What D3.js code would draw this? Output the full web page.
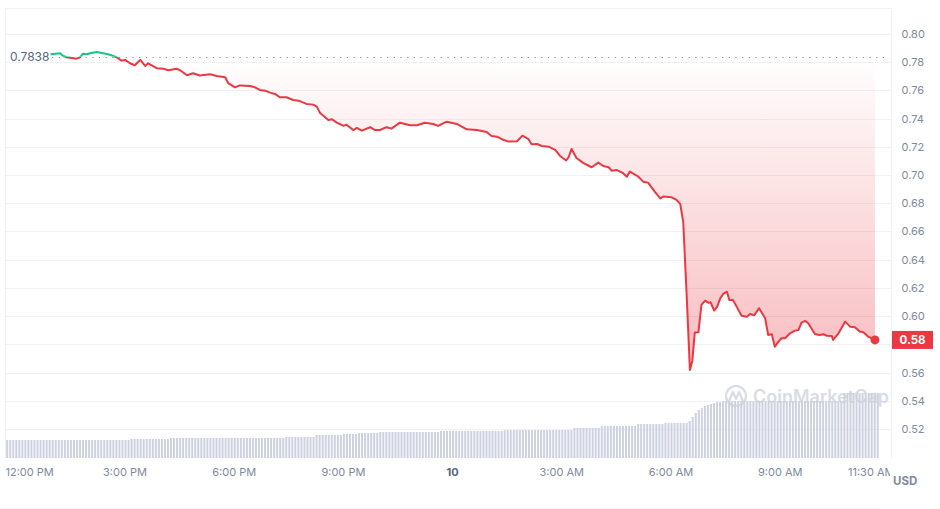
<!DOCTYPE html>
<html>
<head>
<meta charset="utf-8">
<script src="https://cdn.jsdelivr.net/npm/d3@7"></script>
<style>
  body { margin: 0; background: #fff; }
  svg { display: block; font-family: Inter, "Noto Sans", sans-serif; }
</style>
</head>
<body>
<div id="chart"></div>
<script>
var width = 940;
var height = 509;

// reference (open) price and last price
var openPrice = 0.7838;
var lastPrice = 0.5831;

// price points: minutes after 12:00 PM on the 9th, and price in USD
var priceMinutes = [
  58, 74, 79, 85, 101, 107, 111, 118, 123, 134,
  145, 156, 167, 175, 181, 189, 197, 206, 214, 219,
  233, 244, 252, 266, 274, 283, 293, 304, 321, 332,
  346, 351, 362, 370, 387, 395, 403, 412, 420, 428,
  436, 447, 458, 467, 475, 480, 491, 497, 502, 516,
  522, 530, 541, 546, 557, 563, 571, 585, 593, 601,
  612, 620, 634, 651, 662, 675, 689, 697, 711, 728,
  744, 761, 777, 785, 794, 802, 813, 827, 836, 846,
  851, 860, 868, 879, 890, 898, 908, 912, 917, 925,
  936, 950, 961, 969, 978, 983, 991, 1002, 1008, 1013,
  1027, 1035, 1043, 1054, 1063, 1068, 1082, 1090, 1096, 1101,
  1107, 1112, 1116, 1120, 1126, 1131, 1137, 1142, 1146, 1152,
  1157, 1162, 1167, 1173, 1177, 1183, 1189, 1197, 1206, 1211,
  1218, 1226, 1236, 1241, 1247, 1252, 1258, 1263, 1269, 1277,
  1285, 1291, 1296, 1302, 1307, 1318, 1326, 1332, 1338, 1346,
  1348, 1357, 1368, 1376, 1384, 1392, 1398, 1406, 1417
];
var priceValues = [
  0.7856, 0.7863, 0.7844, 0.7835, 0.7825, 0.7835, 0.7860, 0.7856, 0.7863, 0.7872,
  0.7863, 0.7853, 0.7835, 0.7811, 0.7816, 0.7792, 0.7778, 0.7816, 0.7773, 0.7792,
  0.7757, 0.7754, 0.7743, 0.7754, 0.7736, 0.7707, 0.7721, 0.7706, 0.7714, 0.7702,
  0.7693, 0.7651, 0.7621, 0.7635, 0.7631, 0.7622, 0.7603, 0.7598, 0.7584, 0.7575,
  0.7551, 0.7551, 0.7532, 0.7527, 0.7513, 0.7504, 0.7499, 0.7485, 0.7442, 0.7390,
  0.7395, 0.7371, 0.7348, 0.7357, 0.7319, 0.7334, 0.7315, 0.7339, 0.7319, 0.7319,
  0.7339, 0.7329, 0.7371, 0.7353, 0.7353, 0.7371, 0.7362, 0.7348, 0.7378, 0.7362,
  0.7324, 0.7319, 0.7305, 0.7277, 0.7272, 0.7254, 0.7237, 0.7239, 0.7279, 0.7254,
  0.7218, 0.7220, 0.7206, 0.7201, 0.7178, 0.7135, 0.7103, 0.7126, 0.7185, 0.7121,
  0.7086, 0.7055, 0.7088, 0.7064, 0.7055, 0.7031, 0.7036, 0.7013, 0.6988, 0.7024,
  0.6988, 0.6953, 0.6946, 0.6882, 0.6834, 0.6847, 0.6842, 0.6823, 0.6795, 0.6667,
  0.6114, 0.5618, 0.5682, 0.5884, 0.5885, 0.6079, 0.6109, 0.6095, 0.6098, 0.6039,
  0.6067, 0.6126, 0.6157, 0.6173, 0.6114, 0.6114, 0.6067, 0.6003, 0.5996, 0.6015,
  0.6006, 0.6056, 0.5985, 0.5866, 0.5871, 0.5783, 0.5819, 0.5843, 0.5843, 0.5878,
  0.5897, 0.5902, 0.5954, 0.5966, 0.5949, 0.5873, 0.5866, 0.5871, 0.5861, 0.5859,
  0.5831, 0.5878, 0.5961, 0.5925, 0.5921, 0.5890, 0.5885, 0.5854, 0.5831
];

// volume bars, one every 5 minutes starting 11:45 AM on the 9th (arbitrary units)
var volumeValues = [
  18,18,18,18,18,18,18,18,18,18,18,18,18,18,18,18,18,18,18,18,18,18,18,18,
  18,18,18,18,18,18,18,18,18,18,18,18,18,18,18,18,18,19,19,19,19,19,19,19,
  19,19,19,19,19,19,20,20,20,20,20,20,20,20,20,20,20,20,20,20,20,20,20,20,
  20,20,20,20,20,20,20,20,20,20,20,20,20,20,20,20,20,20,20,20,21,21,21,21,
  21,21,21,21,21,21,23,23,23,23,23,23,23,23,23,24,24,24,24,24,25,25,25,25,
  25,25,25,26,26,26,26,26,26,26,26,26,26,26,26,26,26,26,26,26,26,26,26,27,
  27,27,27,27,27,27,27,27,27,27,27,27,27,27,27,27,27,27,27,27,28,28,28,28,
  28,28,28,28,28,28,28,28,28,28,28,28,28,28,28,28,28,28,28,30,30,30,30,30,
  30,30,30,30,32,32,32,32,32,32,32,32,32,32,32,32,34,34,34,34,34,34,34,34,
  34,35,35,35,35,35,35,35,35,37,41,45,48,50,52,53,54,55,56,56,57,57,57,57,
  57,57,57,57,57,57,57,57,57,57,57,57,57,57,57,57,57,57,57,57,57,57,57,57,
  57,57,57,57,57,57,57,57,57,57,57,57,65,65,65,65,65,65,65,65,65,65,65,65
];

var yTicks = [0.52, 0.54, 0.56, 0.58, 0.60, 0.62, 0.64, 0.66, 0.68, 0.70, 0.72, 0.74, 0.76, 0.78, 0.80];
var xTickTimes = [
  new Date(2024, 8, 9, 12, 0), new Date(2024, 8, 9, 15, 0), new Date(2024, 8, 9, 18, 0),
  new Date(2024, 8, 9, 21, 0), new Date(2024, 8, 10, 0, 0), new Date(2024, 8, 10, 3, 0),
  new Date(2024, 8, 10, 6, 0), new Date(2024, 8, 10, 9, 0), new Date(2024, 8, 10, 11, 30)
];
var xTickLabels = ["12:00 PM", "3:00 PM", "6:00 PM", "9:00 PM", "10", "3:00 AM", "6:00 AM", "9:00 AM", "11:30 AM"];

var startTime = new Date(2024, 8, 9, 12, 0);
var volumeStart = new Date(2024, 8, 9, 11, 45);

var priceData = priceMinutes.map(function (m, i) {
  return { date: new Date(startTime.getTime() + m * 60000), price: priceValues[i] };
});
var volumeData = volumeValues.map(function (v, i) {
  return { date: new Date(volumeStart.getTime() + i * 5 * 60000), vol: v };
});

// plot frame
var plotLeft = 5.5, plotRight = 891.5, plotTop = 8, plotBottom = 458;
var green = '#16c784', red = '#ea3943';

var svg = d3.select('#chart').append('svg')
  .attr('width', width)
  .attr('height', height);

var xScale = d3.scaleTime()
  .domain([new Date(2024, 8, 9, 12, 0), new Date(2024, 8, 10, 12, 0)])
  .range([15.3, 888.9]);

var yScale = d3.scaleLinear()
  .domain([0.4994, 0.8184])
  .range([plotBottom, plotTop]);

var volScale = d3.scaleLinear()
  .domain([0, 100])
  .range([plotBottom, plotBottom - 100]);

var defs = svg.append('defs');
var baseY = yScale(openPrice);

var redGrad = defs.append('linearGradient')
  .attr('id', 'redGrad').attr('gradientUnits', 'userSpaceOnUse')
  .attr('x1', 0).attr('x2', 0).attr('y1', baseY).attr('y2', yScale(0.5618));
redGrad.append('stop').attr('offset', '0%').attr('stop-color', red).attr('stop-opacity', 0);
redGrad.append('stop').attr('offset', '100%').attr('stop-color', red).attr('stop-opacity', 0.34);

var greenGrad = defs.append('linearGradient')
  .attr('id', 'greenGrad').attr('gradientUnits', 'userSpaceOnUse')
  .attr('x1', 0).attr('x2', 0).attr('y1', baseY).attr('y2', plotTop);
greenGrad.append('stop').attr('offset', '0%').attr('stop-color', green).attr('stop-opacity', 0);
greenGrad.append('stop').attr('offset', '100%').attr('stop-color', green).attr('stop-opacity', 0.3);

defs.append('clipPath').attr('id', 'clipAbove')
  .append('rect').attr('x', 0).attr('y', 0).attr('width', width).attr('height', baseY);
defs.append('clipPath').attr('id', 'clipBelow')
  .append('rect').attr('x', 0).attr('y', baseY).attr('width', width).attr('height', height - baseY);
defs.append('clipPath').attr('id', 'clipAxisLocal')
  .append('rect').attr('x', 0).attr('y', 0).attr('width', 890).attr('height', 40);

// grid lines
svg.append('g').selectAll('line')
  .data(yTicks)
  .enter().append('line')
  .attr('x1', plotLeft).attr('x2', plotRight)
  .attr('y1', d => Math.round(yScale(d)) + 0.5)
  .attr('y2', d => Math.round(yScale(d)) + 0.5)
  .attr('stroke', '#f0f1f4');

// frame
svg.append('path')
  .attr('d', 'M' + plotLeft + ',' + plotBottom + 'V' + (plotTop + 0.5) + 'H' + plotRight + 'V' + plotBottom)
  .attr('fill', 'none')
  .attr('stroke', '#eff1f4');
svg.append('line')
  .attr('x1', 0).attr('x2', 880).attr('y1', 508.5).attr('y2', 508.5)
  .attr('stroke', '#eff1f4');

// volume bars
svg.append('g').selectAll('rect')
  .data(volumeData)
  .enter().append('rect')
  .attr('x', d => xScale(d.date))
  .attr('y', d => volScale(d.vol))
  .attr('width', 2)
  .attr('height', d => plotBottom - volScale(d.vol))
  .attr('fill', '#ccd2df');

// watermark
var wm = svg.append('g').attr('opacity', 0.75);
wm.append('circle').attr('cx', 736).attr('cy', 396).attr('r', 10)
  .attr('fill', 'none').attr('stroke', '#cdd1d9').attr('stroke-width', 2.2);
wm.append('path')
  .attr('d', 'M729,401 L733,392 L736,399 L739,392 L743,401')
  .attr('fill', 'none').attr('stroke', '#cdd1d9').attr('stroke-width', 2.2)
  .attr('stroke-linejoin', 'round').attr('stroke-linecap', 'round');
wm.append('text')
  .attr('x', 753).attr('y', 403)
  .style('font-size', '18px')
  .style('font-weight', 600)
  .style('fill', '#cdd1d9')
  .text('CoinMarketCap');

// area fills
var area = d3.area()
  .x(d => xScale(d.date))
  .y0(baseY)
  .y1(d => yScale(d.price));

svg.append('path').datum(priceData)
  .attr('d', area).attr('fill', 'url(#redGrad)').attr('clip-path', 'url(#clipBelow)');
svg.append('path').datum(priceData)
  .attr('d', area).attr('fill', 'url(#greenGrad)').attr('clip-path', 'url(#clipAbove)');

// open price dotted line and label
svg.append('line')
  .attr('x1', 52).attr('x2', 886)
  .attr('y1', Math.round(baseY) + 0.5).attr('y2', Math.round(baseY) + 0.5)
  .attr('stroke', '#8f96a3')
  .attr('stroke-dasharray', '1.3,5.4');

svg.append('text')
  .attr('x', 10).attr('y', baseY)
  .attr('dy', '0.36em')
  .style('font-size', '12px')
  .style('fill', '#58667e')
  .text(d3.format('.4f')(openPrice));

// price line
var line = d3.line()
  .x(d => xScale(d.date))
  .y(d => yScale(d.price));

svg.append('path').datum(priceData)
  .attr('d', line).attr('fill', 'none')
  .attr('stroke', red).attr('stroke-width', 2).attr('stroke-linejoin', 'round')
  .attr('clip-path', 'url(#clipBelow)');
svg.append('path').datum(priceData)
  .attr('d', line).attr('fill', 'none')
  .attr('stroke', green).attr('stroke-width', 2).attr('stroke-linejoin', 'round')
  .attr('clip-path', 'url(#clipAbove)');

var lastPoint = priceData[priceData.length - 1];
svg.append('circle')
  .attr('cx', xScale(lastPoint.date))
  .attr('cy', yScale(lastPoint.price))
  .attr('r', 4.5)
  .attr('fill', red);

// y axis (the tick hidden under the last-price tag is left out)
var tagY = yScale(lastPrice);
var yAxis = d3.axisRight(yScale)
  .tickValues(yTicks.filter(d => Math.abs(yScale(d) - tagY) > 12))
  .tickSize(0)
  .tickPadding(10)
  .tickFormat(d3.format('.2f'));

var yAxisG = svg.append('g')
  .attr('transform', 'translate(' + plotRight + ',0)')
  .call(yAxis);
yAxisG.select('.domain').remove();
yAxisG.selectAll('text')
  .style('font-family', 'Inter, "Noto Sans", sans-serif')
  .style('font-size', '11px')
  .style('fill', '#808a9d');

// last price tag
svg.append('rect')
  .attr('x', 892).attr('y', tagY - 9)
  .attr('width', 41).attr('height', 18)
  .attr('fill', red);
svg.append('text')
  .attr('x', 912.5).attr('y', tagY)
  .attr('dy', '0.36em')
  .style('text-anchor', 'middle')
  .style('font-size', '11.5px')
  .style('font-weight', 700)
  .style('fill', '#fff')
  .text(d3.format('.2f')(lastPrice));

// x axis
var xAxis = d3.axisBottom(xScale)
  .tickValues(xTickTimes)
  .tickSize(0)
  .tickPadding(10)
  .tickFormat((d, i) => xTickLabels[i]);

var xAxisG = svg.append('g')
  .attr('transform', 'translate(0,' + plotBottom + ')')
  .attr('clip-path', 'url(#clipAxisLocal)')
  .call(xAxis);
xAxisG.select('.domain').remove();
xAxisG.selectAll('text')
  .style('font-family', 'Inter, "Noto Sans", sans-serif')
  .style('font-size', '11px')
  .style('fill', '#808a9d');
xAxisG.selectAll('.tick').filter((d, i) => i === 0).select('text')
  .style('text-anchor', 'start')
  .attr('x', 5 - xScale(xTickTimes[0]));
xAxisG.selectAll('.tick').filter((d, i) => i === 4).select('text')
  .style('font-weight', 700)
  .style('fill', '#58667e');

svg.append('text')
  .attr('x', 893).attr('y', 485)
  .style('font-size', '11.5px')
  .style('font-weight', 700)
  .style('fill', '#808a9d')
  .text('USD');
</script>
</body>
</html>
